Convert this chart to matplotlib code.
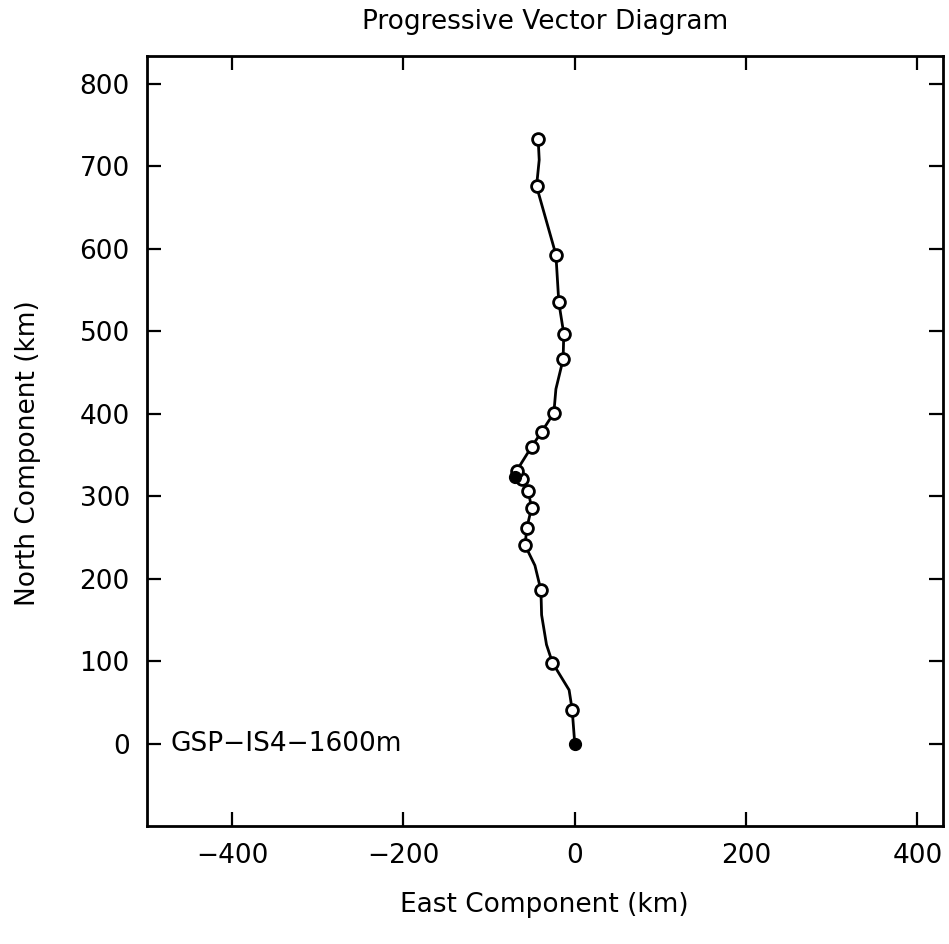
import matplotlib
matplotlib.use("Agg")
import matplotlib.pyplot as plt

# track of the drift (km), start at origin
line_east = [0, -3, -6.6, -26, -33, -38.7, -39.5, -46.5, -58, -56, -50.4, -54.3,
             -62, -69.8, -67.8, -50.4, -38.7, -24.4, -22, -13.6, -12.8, -18.6,
             -22, -44.6, -41.5, -42.7]
line_north = [0, 41, 65, 98, 120, 156, 186, 216, 240.5, 261.5, 286, 306,
              321, 323, 331, 360, 378, 401, 430, 466, 497, 535,
              593, 676, 708, 733]

# open circle markers along the track
mark_east = [-3, -26, -39.5, -58, -56, -50.4, -54.3, -62, -67.8, -50.4, -38.7,
             -24.4, -13.6, -12.8, -18.6, -22, -44.6, -42.7]
mark_north = [41, 98, 186, 240.5, 261.5, 286, 306, 321, 331, 360, 378,
              401, 466, 497, 535, 593, 676, 733]

# filled markers
fill_east = [0, -69.8]
fill_north = [0, 323]

x_ticks = [-400, -200, 0, 200, 400]
y_ticks = [0, 100, 200, 300, 400, 500, 600, 700, 800]

plt.rcParams['font.family'] = 'DejaVu Sans'
fs = 19

fig = plt.figure(figsize=(9.49, 9.44), dpi=100)
ax = fig.add_axes([0.1544, 0.125, 0.8393, 0.8157])

ax.plot(line_east, line_north, color='black', lw=2.0, zorder=2)
ax.plot(mark_east, mark_north, 'o', ms=8.5, mfc='white', mec='black', mew=2.0, zorder=3)
ax.plot(fill_east, fill_north, 'o', ms=8.5, mfc='black', mec='black', zorder=3)

ax.set_xlim(-500, 430)
ax.set_ylim(-100, 834)
ax.set_xticks(x_ticks)
ax.set_yticks(y_ticks)
ax.set_xticklabels([str(v).replace('-', '\u2212') for v in x_ticks])

ax.tick_params(direction='in', length=10, width=1.6, top=True, right=True,
               labelsize=fs, pad=12)
for s in ax.spines.values():
    s.set_linewidth(2.0)

ax.text(-472, 0, 'GSP\u2212IS4\u22121600m', fontsize=fs, va='center', ha='left')

fig.text(0.574, 0.977, 'Progressive Vector Diagram', fontsize=fs, ha='center', va='center')
fig.text(0.574, 0.041, 'East Component (km)', fontsize=fs, ha='center', va='center')
fig.text(0.029, 0.52, 'North Component (km)', fontsize=fs, ha='center', va='center',
         rotation=90)

fig.savefig('out.png', dpi=100)
